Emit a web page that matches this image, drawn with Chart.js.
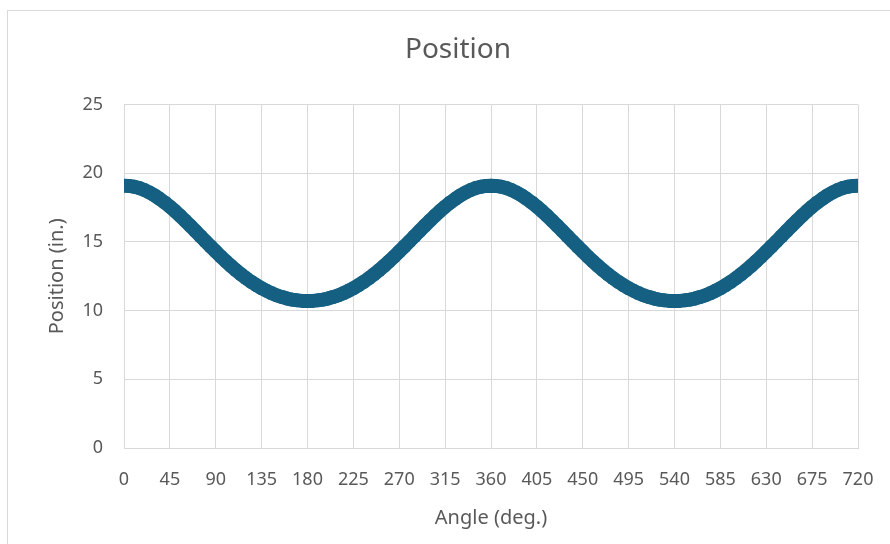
<!DOCTYPE html>
<html>
<head>
<meta charset="utf-8">
<title>Position</title>
<script src="https://cdn.jsdelivr.net/npm/chart.js@4.4.1/dist/chart.umd.min.js"></script>
<style>
  body { margin: 0; background: #fff; }
  #frame { position: absolute; left: 7px; top: 10px; width: 900px; height: 560px; border: 1px solid #d9d9d9; }
  #wrap { position: absolute; left: 0; top: 0; width: 890px; height: 544px; }
</style>
</head>
<body>
<div id="frame"></div>
<div id="wrap"><canvas id="posChart" width="890" height="544"></canvas></div>
<script>
// crank angle, every 5 degrees over two turns
const angles = [
  0, 5, 10, 15, 20, 25, 30, 35, 40, 45, 50, 55, 60, 65, 70, 75, 80, 85, 90,
  95, 100, 105, 110, 115, 120, 125, 130, 135, 140, 145, 150, 155, 160, 165, 170, 175, 180,
  185, 190, 195, 200, 205, 210, 215, 220, 225, 230, 235, 240, 245, 250, 255, 260, 265, 270,
  275, 280, 285, 290, 295, 300, 305, 310, 315, 320, 325, 330, 335, 340, 345, 350, 355, 360,
  365, 370, 375, 380, 385, 390, 395, 400, 405, 410, 415, 420, 425, 430, 435, 440, 445, 450,
  455, 460, 465, 470, 475, 480, 485, 490, 495, 500, 505, 510, 515, 520, 525, 530, 535, 540,
  545, 550, 555, 560, 565, 570, 575, 580, 585, 590, 595, 600, 605, 610, 615, 620, 625, 630,
  635, 640, 645, 650, 655, 660, 665, 670, 675, 680, 685, 690, 695, 700, 705, 710, 715, 720
];

// slider position (in.)
const positions = [
  19.10, 19.08, 19.02, 18.92, 18.78, 18.60, 18.39, 18.14, 17.87, 17.57, 17.25, 16.91, 16.55, 16.18, 15.80, 15.42, 15.04, 14.67, 14.30,
  13.93, 13.59, 13.25, 12.93, 12.63, 12.35, 12.09, 11.85, 11.63, 11.44, 11.26, 11.11, 10.99, 10.88, 10.80, 10.75, 10.71, 10.70,
  10.71, 10.75, 10.80, 10.88, 10.99, 11.11, 11.26, 11.44, 11.63, 11.85, 12.09, 12.35, 12.63, 12.93, 13.25, 13.59, 13.93, 14.30,
  14.67, 15.04, 15.42, 15.80, 16.18, 16.55, 16.91, 17.25, 17.57, 17.87, 18.14, 18.39, 18.60, 18.78, 18.92, 19.02, 19.08, 19.10,
  19.08, 19.02, 18.92, 18.78, 18.60, 18.39, 18.14, 17.87, 17.57, 17.25, 16.91, 16.55, 16.18, 15.80, 15.42, 15.04, 14.67, 14.30,
  13.93, 13.59, 13.25, 12.93, 12.63, 12.35, 12.09, 11.85, 11.63, 11.44, 11.26, 11.11, 10.99, 10.88, 10.80, 10.75, 10.71, 10.70,
  10.71, 10.75, 10.80, 10.88, 10.99, 11.11, 11.26, 11.44, 11.63, 11.85, 12.09, 12.35, 12.63, 12.93, 13.25, 13.59, 13.93, 14.30,
  14.67, 15.04, 15.42, 15.80, 16.18, 16.55, 16.91, 17.25, 17.57, 17.87, 18.14, 18.39, 18.60, 18.78, 18.92, 19.02, 19.08, 19.10
];

const xTickStep = 45;
const yTicks = [0, 5, 10, 15, 20, 25];

const textColor = '#595959';
const gridColor = '#d9d9d9';
const seriesColor = '#156082';
const fontFamily = '"Noto Sans", "Open Sans", sans-serif';

const points = angles.map((a, i) => ({ x: a, y: positions[i] }));

const ctx = document.getElementById('posChart').getContext('2d');
new Chart(ctx, {
    type: 'scatter',
    data: {
        datasets: [{
            data: points,
            showLine: true,
            borderColor: seriesColor,
            borderWidth: 14,
            borderJoinStyle: 'round',
            borderCapStyle: 'round',
            pointRadius: 7,
            pointBorderWidth: 0,
            pointBackgroundColor: seriesColor
        }]
    },
    options: {
        responsive: false,
        animation: false,
        // left padding pushes the centred title to the right
        layout: { padding: { top: 0, right: 32, bottom: 0, left: 58 } },
        plugins: {
            legend: { display: false },
            tooltip: { enabled: false },
            title: {
                display: true,
                text: 'Position',
                color: textColor,
                font: { family: fontFamily, size: 28, weight: 'normal' },
                padding: { top: 33, bottom: 38 }
            }
        },
        scales: {
            x: {
                type: 'linear',
                min: 0,
                max: 720,
                ticks: {
                    stepSize: xTickStep,
                    maxTicksLimit: 20,
                    autoSkip: false,
                    maxRotation: 0,
                    padding: 21,
                    color: textColor,
                    font: { family: fontFamily, size: 18 }
                },
                grid: { color: gridColor, drawTicks: false },
                border: { color: gridColor },
                title: {
                    display: true,
                    text: 'Angle (deg.)',
                    color: textColor,
                    font: { family: fontFamily, size: 20 },
                    padding: { top: 0, bottom: 14 }
                },
                afterFit: s => {
                    s.height = 96;
                    // end labels fit inside the layout padding already
                    s.paddingLeft = 0;
                    s.paddingRight = 0;
                }
            },
            y: {
                min: 0,
                max: 25,
                afterBuildTicks: s => { s.ticks = yTicks.map(v => ({ value: v })); },
                ticks: {
                    padding: 21,
                    color: textColor,
                    font: { family: fontFamily, size: 18 }
                },
                grid: { color: gridColor, drawTicks: false },
                border: { color: gridColor },
                title: {
                    display: true,
                    text: 'Position (in.)',
                    color: textColor,
                    font: { family: fontFamily, size: 20 },
                    padding: { top: -13, bottom: 0 }
                },
                afterFit: s => { s.width = 66; }
            }
        }
    }
});
</script>
</body>
</html>
